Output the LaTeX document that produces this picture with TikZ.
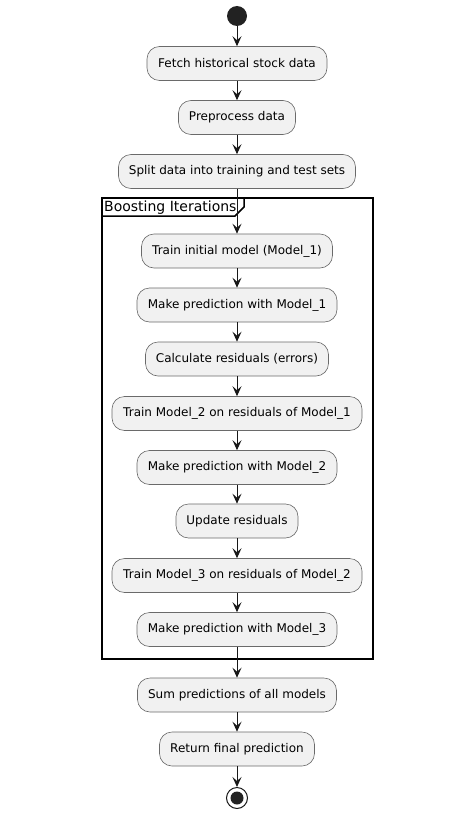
\documentclass[tikz,border=0pt]{standalone}
\usepackage{fontspec}
\setmainfont{DejaVu Sans}
\usetikzlibrary{arrows.meta}
\definecolor{boxfill}{HTML}{F1F1F1}
\definecolor{boxline}{HTML}{6A6A6A}
\definecolor{ink}{HTML}{181818}
\definecolor{dotfill}{HTML}{222222}
\tikzset{
  act/.style={draw=boxline, fill=boxfill, rounded corners=12.5bp, line width=0.6bp,
    minimum height=34bp, inner sep=0pt, font=\fontsize{12bp}{14bp}\selectfont, text=black},
  arr/.style={draw=ink, line width=1bp, -{Stealth[length=10bp, width=9bp, inset=4bp]}},
  frm/.style={draw=black, line width=1.5bp},
}
\begin{document}
\begin{tikzpicture}[x=1bp, y=-1bp]
\useasboundingbox (0,0) rectangle (473,818);
% frame
\draw[frm] (102,198) rectangle (373,659);
\draw[frm] (102,216) -- (235,216) -- (244,207) -- (244,198);
\node[anchor=west, inner sep=0pt, font=\fontsize{14bp}{16bp}\selectfont] (flabel) at (104,207.5) {Boosting Iterations};
% start
\node[circle, fill=dotfill, minimum size=20bp, inner sep=0pt] (start) at (237,16) {};
\node[act, minimum width=180bp] (fetch) at (237,63.5) {Fetch historical stock data};
\node[act, minimum width=117bp] (prep) at (237,117.5) {Preprocess data};
\node[act, minimum width=237bp] (split) at (237,171.5) {Split data into training and test sets};
\node[act, minimum width=191bp] (train1) at (237,251) {Train initial model (Model\_1)};
\node[act, minimum width=200bp] (pred1) at (237,305) {Make prediction with Model\_1};
\node[act, minimum width=183bp] (calc) at (237,359) {Calculate residuals (errors)};
\node[act, minimum width=250bp] (train2) at (237,413.5) {Train Model\_2 on residuals of Model\_1};
\node[act, minimum width=200bp] (pred2) at (237,467.5) {Make prediction with Model\_2};
\node[act, minimum width=122bp] (upd) at (237,521) {Update residuals};
\node[act, minimum width=250bp] (train3) at (237,575.5) {Train Model\_3 on residuals of Model\_2};
\node[act, minimum width=200bp] (pred3) at (237,629.5) {Make prediction with Model\_3};
\node[act, minimum width=199bp] (sum) at (237,695) {Sum predictions of all models};
\node[act, minimum width=155bp] (ret) at (237,749) {Return final prediction};
% end
\node[circle, draw=ink, fill=white, line width=1bp, minimum size=21bp, inner sep=0pt] (stop) at (237,798) {};
\node[circle, fill=dotfill, minimum size=13bp, inner sep=0pt] (stopin) at (stop.center) {};
% arrows
\draw[arr] (start) -- (fetch);
\draw[arr] (fetch) -- (prep);
\draw[arr] (prep) -- (split);
\draw[arr] (split) -- (train1);
\draw[arr] (train1) -- (pred1);
\draw[arr] (pred1) -- (calc);
\draw[arr] (calc) -- (train2);
\draw[arr] (train2) -- (pred2);
\draw[arr] (pred2) -- (upd);
\draw[arr] (upd) -- (train3);
\draw[arr] (train3) -- (pred3);
\draw[arr] (pred3) -- (sum);
\draw[arr] (sum) -- (ret);
\draw[arr] (ret) -- (stop);
\end{tikzpicture}
\end{document}
